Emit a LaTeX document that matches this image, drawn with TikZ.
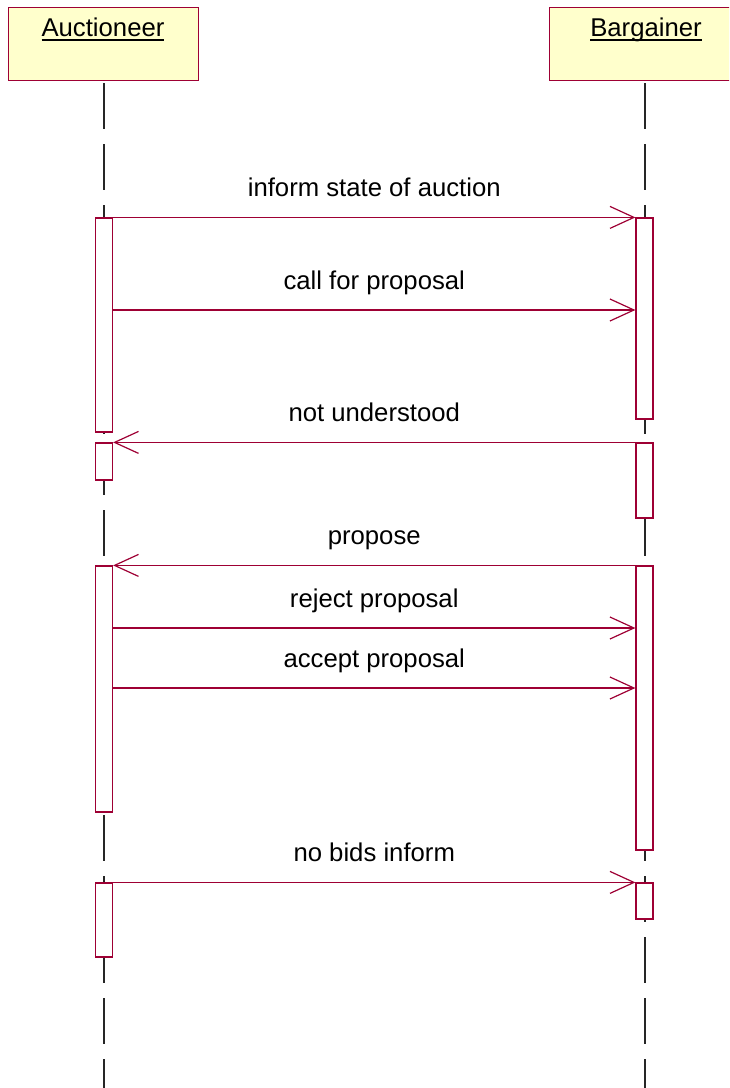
\documentclass[tikz,border=0pt]{standalone}
\usepackage{fontspec}
\setmainfont{Liberation Sans}
\usetikzlibrary{arrows.meta,positioning,fit}
\definecolor{rose}{RGB}{158,0,52}
\definecolor{notepad}{RGB}{255,255,204}
% object name with a heavier underline
\newcommand{\objname}[1]{\setbox0=\hbox{#1}\leavevmode\rlap{\copy0}\raisebox{-2.6pt}{\rule{\wd0}{.9pt}}}

\begin{document}
\begin{tikzpicture}[x=.5pt,y=-.5pt,>={Straight Barb[length=12pt,width=11pt]},
  font=\fontsize{12.85}{15}\selectfont,
  head/.style={draw=rose,fill=notepad,line width=.6pt,minimum width=95pt,minimum height=36.5pt,anchor=north west,inner sep=0pt},
  life/.style={draw=black!85,line width=.6pt,dash pattern=on 23pt off 7.5pt},
  bar/.style={draw=rose,fill=white,line width=.6pt,inner xsep=4.25pt,inner ysep=0pt},
  msg/.style={->,draw=rose,line width=.6pt},
  lbl/.style={anchor=base,yshift=10.5pt,text=black}]
\clip (0,0) rectangle (729,1088);
% object boxes
\node[head] (auct) at (8,7) {};
\node[head] (barg) at (549,7) {};
\node[anchor=base] at (103,36) {\objname{Auctioneer}};
\node[anchor=base] at (646,36) {\objname{Bargainer}};
% lifelines
\draw[life] (104,83) -- (104,1088);
\draw[life] (645,83) -- (645,1088);
% activations
\node[bar,fit={(104,218) (104,432)}] (a1) {};
\node[bar,fit={(104,443) (104,480)}] (a2) {};
\node[bar,fit={(104,566) (104,812)}] (a3) {};
\node[bar,fit={(104,883) (104,957)}] (a4) {};
\node[bar,fit={(644.5,218) (644.5,419)}] (b1) {};
\node[bar,fit={(644.5,443) (644.5,518)}] (b2) {};
\node[bar,fit={(644.5,566) (644.5,850)}] (b3) {};
\node[bar,fit={(644.5,883) (644.5,919)}] (b4) {};
% messages
\draw[msg] (a1.north east) -- node[lbl]{inform state of auction} (b1.north west);
\draw[msg] (a1.east |- 0,310) -- node[lbl]{call for proposal} (b1.west |- 0,310);
\draw[msg] (b2.north west) -- node[lbl]{not understood} (a2.north east);
\draw[msg] (b3.north west) -- node[lbl]{propose} (a3.north east);
\draw[msg] (a3.east |- 0,628) -- node[lbl]{reject proposal} (b3.west |- 0,628);
\draw[msg] (a3.east |- 0,688) -- node[lbl]{accept proposal} (b3.west |- 0,688);
\draw[msg] (a4.north east) -- node[lbl]{no bids inform} (b4.north west);
\end{tikzpicture}
\end{document}
